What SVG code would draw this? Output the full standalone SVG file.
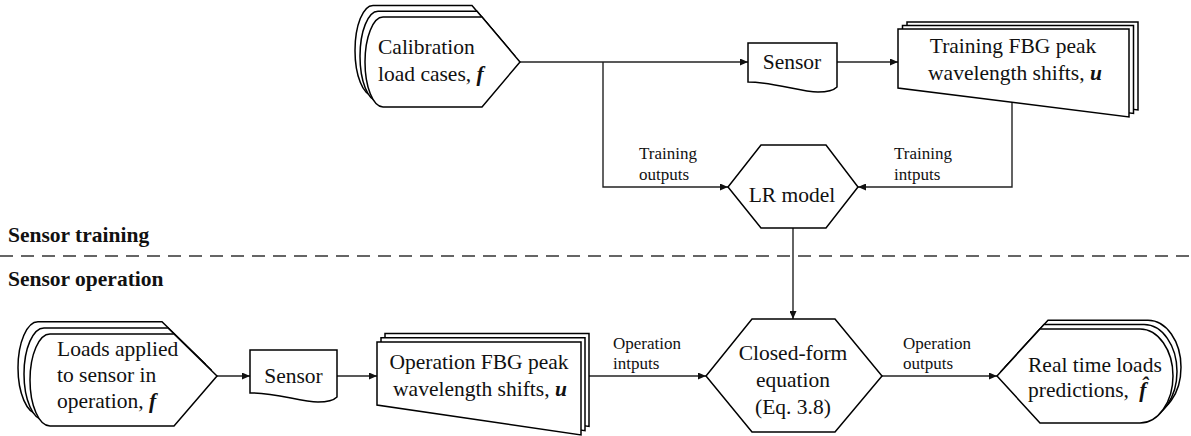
<svg xmlns="http://www.w3.org/2000/svg" width="1191" height="436" viewBox="0 0 1191 436">
<style>
.shape{fill:#fff;stroke:#000;stroke-width:1.5;stroke-linejoin:miter}
.conn{fill:none;stroke:#222;stroke-width:1.4}
text{font-family:"Liberation Serif","Times New Roman","DejaVu Serif","Noto Serif",serif;fill:#111}
.t{font-size:21.5px}
.s{font-size:17px}
.h{font-size:21.5px;font-weight:bold}
.m{text-anchor:middle}
.bi{font-weight:bold;font-style:italic}
</style>
<defs>
<marker id="arr" markerUnits="userSpaceOnUse" markerWidth="9" markerHeight="7" refX="8" refY="3.5" orient="auto">
<path d="M0,0 L8,3.5 L0,7 Z" fill="#111"/>
</marker>
<path id="disp1" d="M383,17 H482 L520,62 L482,107 H383 A18,45 0 0 1 383,17 Z"/>
<path id="disp2" d="M50,334 H174 L217,376 L174,426 H50 A20,46 0 0 1 50,334 Z"/>
<path id="disp3" d="M1040,329 H1140 A33,47 0 0 1 1140,423 H1040 L997,376 Z"/>
<path id="card1" d="M898,29 H1129 V117 L898,88 Z"/>
<path id="card2" d="M377,342 H581 V435 L377,405 Z"/>
</defs>

<g id="connectors">
<path class="conn" d="M520,62 H748" marker-end="url(#arr)"/>
<path class="conn" d="M603,62 V187 H728" marker-end="url(#arr)"/>
<path class="conn" d="M837,62 H898" marker-end="url(#arr)"/>
<path class="conn" d="M1012,102 V187 H858" marker-end="url(#arr)"/>
<path class="conn" d="M793,228 V319" marker-end="url(#arr)"/>
<path class="conn" d="M217,376 H250" marker-end="url(#arr)"/>
<path class="conn" d="M337,376 H377" marker-end="url(#arr)"/>
<path class="conn" d="M589,376 H706" marker-end="url(#arr)"/>
<path class="conn" d="M882,376 H997" marker-end="url(#arr)"/>
</g>

<g id="divider">
<path d="M0,256 H1191" fill="none" stroke="#333" stroke-width="1.4" stroke-dasharray="13 8"/>
<text class="h" x="8" y="242">Sensor training</text>
<text class="h" x="8" y="286">Sensor operation</text>
</g>

<g id="calibration">
<use href="#disp1" class="shape" transform="translate(-10,-11.6)"/>
<use href="#disp1" class="shape" transform="translate(-5,-5.8)"/>
<use href="#disp1" class="shape"/>
<text class="t" x="378" y="54">Calibration</text>
<text class="t" x="378" y="81">load cases, <tspan class="bi">f</tspan></text>
</g>

<g id="sensor1">
<path class="shape" d="M748,43 H837 V87 C834,90 828,92 818,92 C800,92 775,82 748,82 Z"/>
<text class="t m" x="792" y="69">Sensor</text>
</g>

<g id="training-fbg">
<use href="#card1" class="shape" transform="translate(9,-7)"/>
<use href="#card1" class="shape" transform="translate(4.5,-3.5)"/>
<use href="#card1" class="shape"/>
<text class="t m" x="1013" y="53">Training FBG peak</text>
<text class="t m" x="1015" y="80">wavelength shifts, <tspan class="bi">u</tspan></text>
</g>

<g id="lr-model">
<path class="shape" d="M761,145 H826 L858,187 L826,228 H761 L728,187 Z"/>
<text class="t m" x="792" y="202">LR model</text>
</g>

<g id="label-training-outputs">
<text class="s" x="639" y="159">Training</text>
<text class="s" x="639" y="180">outputs</text>
</g>
<g id="label-training-intputs">
<text class="s" x="894" y="159">Training</text>
<text class="s" x="894" y="180">intputs</text>
</g>

<g id="loads-applied">
<use href="#disp2" class="shape" transform="translate(-12,-12.2)"/>
<use href="#disp2" class="shape" transform="translate(-6,-6.1)"/>
<use href="#disp2" class="shape"/>
<text class="t" x="57" y="356">Loads applied</text>
<text class="t" x="57" y="382">to sensor in</text>
<text class="t" x="57" y="408">operation, <tspan class="bi">f</tspan></text>
</g>

<g id="sensor2">
<path class="shape" d="M250,350 H337 V397 C334,400 328,402 318,402 C300,402 275,392 250,393 Z"/>
<text class="t m" x="293.5" y="383">Sensor</text>
</g>

<g id="operation-fbg">
<use href="#card2" class="shape" transform="translate(8,-8.6)"/>
<use href="#card2" class="shape" transform="translate(4,-4.3)"/>
<use href="#card2" class="shape"/>
<text class="t m" x="479" y="369">Operation FBG peak</text>
<text class="t m" x="480" y="396">wavelength shifts, <tspan class="bi">u</tspan></text>
</g>

<g id="label-operation-intputs">
<text class="s" x="613" y="349">Operation</text>
<text class="s" x="613" y="369">intputs</text>
</g>

<g id="closed-form">
<path class="shape" d="M752,319 H835 L882,376 L835,432 H752 L706,376 Z"/>
<text class="t m" x="793" y="360">Closed-form</text>
<text class="t m" x="793" y="387">equation</text>
<text class="t m" x="793" y="414">(Eq. 3.8)</text>
</g>

<g id="label-operation-outputs">
<text class="s" x="903" y="349">Operation</text>
<text class="s" x="903" y="369">outputs</text>
</g>

<g id="real-time">
<use href="#disp3" class="shape" transform="translate(8,-8.8)"/>
<use href="#disp3" class="shape" transform="translate(4,-4.4)"/>
<use href="#disp3" class="shape"/>
<text class="t" x="1028" y="372">Real time loads</text>
<text class="t" x="1028" y="397">predictions, <tspan class="bi" dx="5">f&#x302;</tspan></text>
</g>
</svg>
